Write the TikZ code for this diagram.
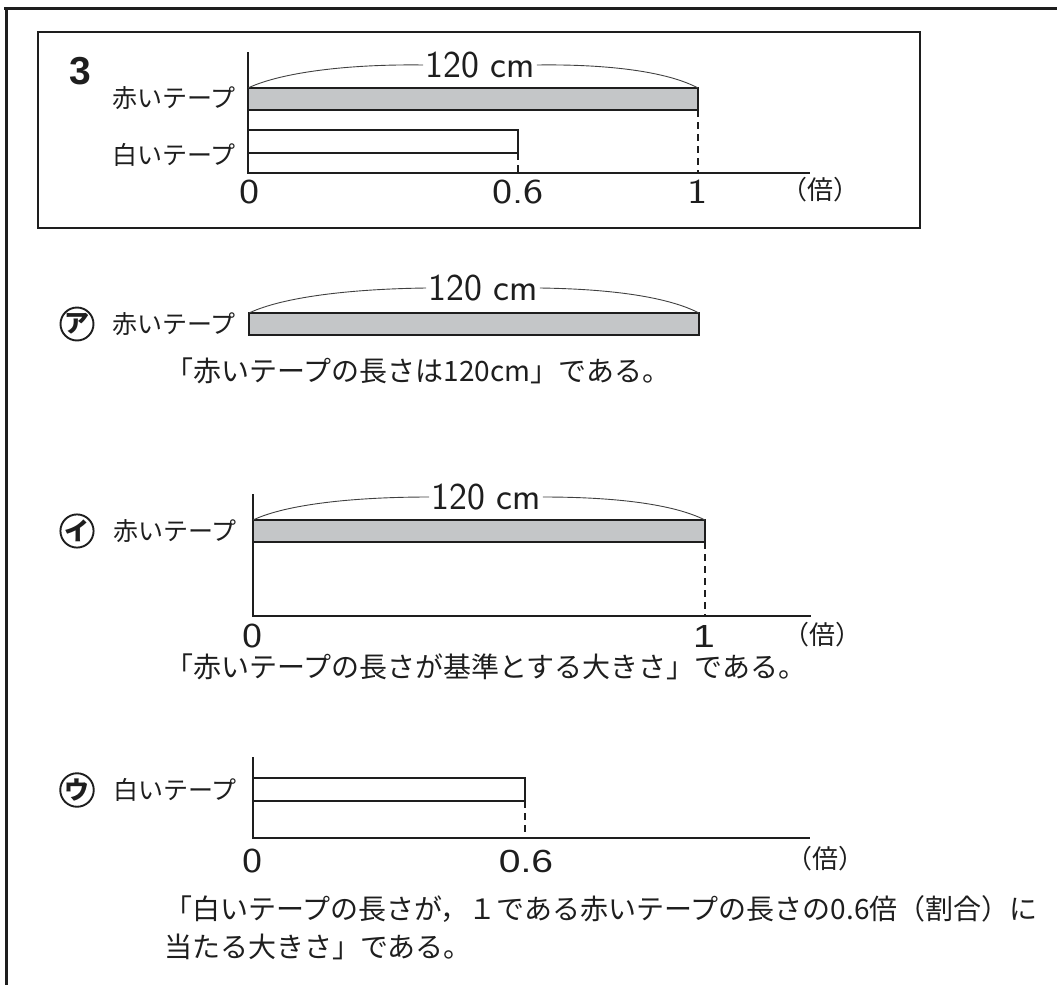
\documentclass[tikz,border=0pt]{standalone}
\usepackage{fontspec}
\newfontfamily\jp{Noto Sans CJK JP}
\newfontfamily\lsans{Liberation Sans}
\newcommand\wnum[1]{\scalebox{1.22}[1]{#1}}
\definecolor{tapegray}{RGB}{196,198,200}
\definecolor{ink}{RGB}{30,30,30}
\tikzset{
  frame/.style={line width=3pt, draw=ink},
  box/.style={line width=1.8pt, draw=ink},
  axisline/.style={line width=2.4pt, draw=ink},
  tapeR/.style={draw=ink, line width=2.4pt, fill=tapegray},
  tapeW/.style={draw=ink, line width=2.4pt, fill=white},
  guide/.style={draw=ink, dash pattern=on 7pt off 5pt, line width=1.5pt},
  arcline/.style={line width=0.9pt, draw=black!75},
  lab/.style={font=\jp\fontsize{25}{30}\selectfont, text=ink, anchor=east, inner sep=0pt},
  body/.style={font=\jp\fontsize{28}{32}\selectfont, text=ink, anchor=west, inner sep=0pt},
  thinnum/.style={font=\sffamily\fontsize{35}{38}\selectfont, text=ink, inner sep=0pt},
  boldnum/.style={font=\lsans\fontsize{32}{34}\selectfont, text=ink, inner sep=0pt},
  bai/.style={font=\jp\fontsize{26}{28}\selectfont, text=ink, inner sep=0pt},
  circmark/.style={circle, draw=ink, line width=1.9pt, minimum size=33pt, inner sep=0pt, text=ink, font=\jp\bfseries\fontsize{25}{26}\selectfont},
  len/.style={font=\sffamily\fontsize{38}{40}\selectfont, text=ink, inner sep=2pt}
}
\begin{document}
\begin{tikzpicture}[x=1pt,y=-1pt]
\useasboundingbox (0,0) rectangle (1057,985);
% frames
\coordinate (fTL) at (6,8);
\coordinate (fTR) at (1057,8);
\coordinate (fBL) at (6,985);
\draw[frame] (4,8) -- (fTR);
\draw[frame] (fTL) -- (fBL);
\draw[box] (38,32) rectangle (920,228);
\node[font=\lsans\bfseries\fontsize{39}{40}\selectfont, text=ink, inner sep=0pt] (num3) at (80,71) {3};

% ---------- top diagram ----------
\coordinate (tTop) at (248,52);
\coordinate (tO) at (248,173);
\coordinate (tEnd) at (810,173);
\draw[axisline] (tTop) -- (tO) -- (tEnd);
\draw[tapeR] (248,88) rectangle (698,110);
\draw[tapeW] (248,130) rectangle (518,153);
\coordinate (tRa) at (248,88);
\coordinate (tRb) at (698,88);
\coordinate (tRc) at (698,110);
\coordinate (tRd) at (698,173);
\coordinate (tWc) at (518,153);
\coordinate (tWd) at (518,173);
\draw[guide] (tRc) -- (tRd);
\draw[guide] (tWc) -- (tWd);
\node[len] (tlen) at (480,65) {120\hspace{0.3em}cm};
\draw[arcline] (tRa) .. controls (282,72) and (350,64) .. (tlen.west);
\draw[arcline] (tlen.east) .. controls (610,64) and (668,72) .. (tRb);
\node[lab] (tlabR) at (236,98) {赤いテープ};
\node[lab] (tlabW) at (236,155) {白いテープ};
\node[thinnum] (tn0) at (250,192) {\wnum{0}};
\node[thinnum] (tn06) at (518,192) {\wnum{0.6}};
\node[thinnum] (tn1) at (698,192) {\wnum{1}};
\node[bai] (tbai) at (820,190) {（倍）};

% ---------- ア ----------
\node[circmark] (ca) at (77,324) {ア};
\node[lab] (alab) at (236,324) {赤いテープ};
\draw[tapeR] (249,313) rectangle (699,335);
\coordinate (aRa) at (249,313);
\coordinate (aRb) at (699,313);
\node[len] (alen) at (483,288) {120\hspace{0.3em}cm};
\draw[arcline] (aRa) .. controls (283,297) and (350,289) .. (alen.west);
\draw[arcline] (alen.east) .. controls (612,289) and (668,297) .. (aRb);
\node[body] (abody) at (165,371) {「赤いテープの長さは120cm」である。};

% ---------- イ ----------
\node[circmark] (cb) at (77,531) {イ};
\node[lab] (blab) at (237,531) {赤いテープ};
\coordinate (bTop) at (253,494);
\coordinate (bO) at (253,616);
\coordinate (bEnd) at (811,616);
\draw[axisline] (bTop) -- (bO) -- (bEnd);
\draw[tapeR] (253,520) rectangle (705,542);
\coordinate (bRa) at (253,520);
\coordinate (bRb) at (705,520);
\coordinate (bRc) at (705,542);
\coordinate (bRd) at (705,616);
\draw[guide] (bRc) -- (bRd);
\node[len] (blen) at (486,497) {120\hspace{0.3em}cm};
\draw[arcline] (bRa) .. controls (287,504) and (355,497) .. (blen.west);
\draw[arcline] (blen.east) .. controls (615,497) and (673,504) .. (bRb);
\node[thinnum] (bn0) at (253,636) {\wnum{0}};
\node[boldnum] (bn1) at (704,636) {\wnum{1}};
\node[bai] (bbai) at (822,635) {（倍）};
\node[body] (bbody) at (165,667) {「赤いテープの長さが基準とする大きさ」である。};

% ---------- ウ ----------
\node[circmark] (cc) at (77,790) {ウ};
\node[lab] (clab) at (237,790) {白いテープ};
\coordinate (cTop) at (253,757);
\coordinate (cO) at (253,838);
\coordinate (cEnd) at (810,838);
\draw[axisline] (cTop) -- (cO) -- (cEnd);
\draw[tapeW] (253,778) rectangle (525,801);
\coordinate (cWc) at (525,801);
\coordinate (cWd) at (525,838);
\draw[guide] (cWc) -- (cWd);
\node[thinnum] (cn0) at (253,861) {\wnum{0}};
\node[boldnum] (cn06) at (526,861) {\wnum{0.6}};
\node[bai] (cbai) at (825,859) {（倍）};
\node[body] (cbody1) at (164,909) {「白いテープの長さが，１である赤いテープの長さの0.6倍（割合）に};
\node[body] (cbody2) at (164,947) {当たる大きさ」である。};
\end{tikzpicture}
\end{document}
